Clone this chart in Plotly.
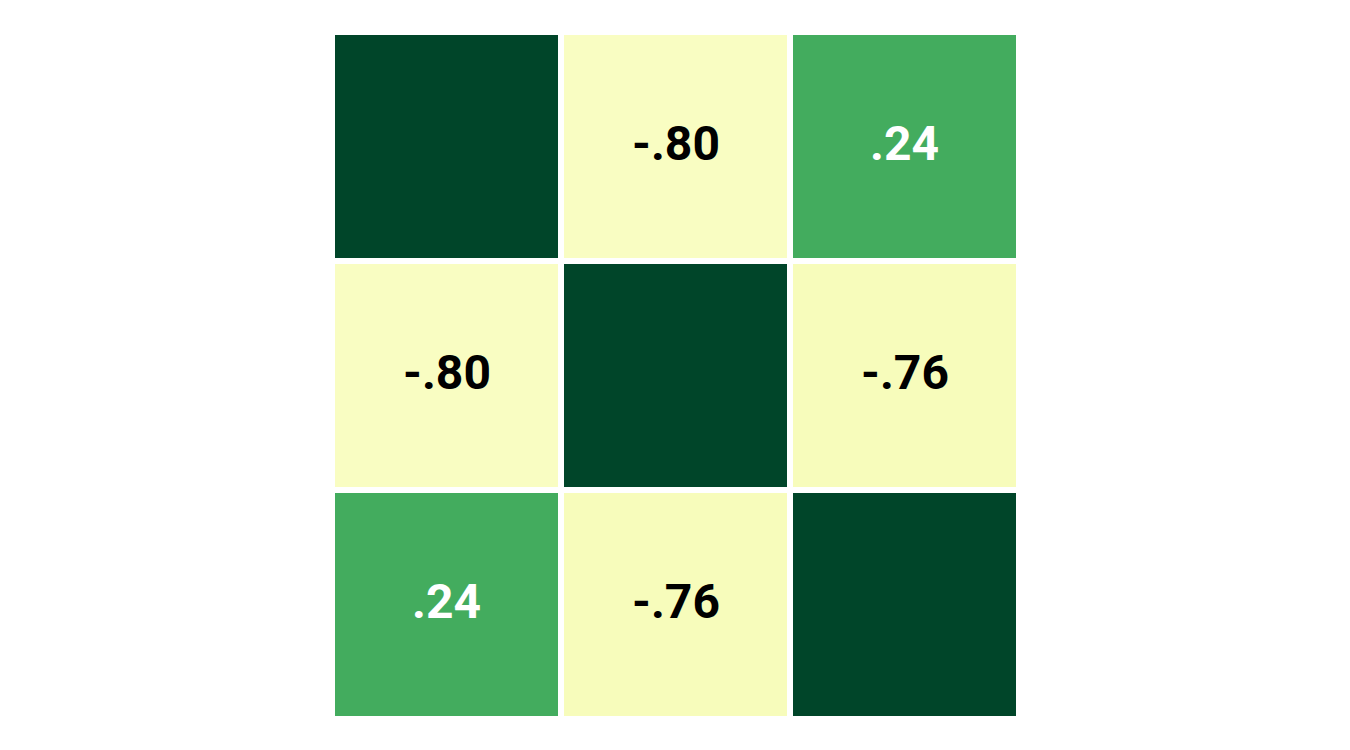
import plotly.graph_objects as go

variables = ["A", "B", "C"]
corr = [
    [1.00, -0.80, 0.24],
    [-0.80, 1.00, -0.76],
    [0.24, -0.76, 1.00],
]
labels = [
    ["", "-.80", ".24"],
    ["-.80", "", "-.76"],
    [".24", "-.76", ""],
]

fig = go.Figure(
    go.Heatmap(
        z=corr,
        x=variables,
        y=variables,
        colorscale="YlGn",
        zmin=-1,
        zmax=1,
        xgap=6,
        ygap=6,
        showscale=False,
        hoverinfo="skip",
    )
)

for i, row in enumerate(corr):
    for j, v in enumerate(row):
        if labels[i][j]:
            fig.add_annotation(
                x=variables[j],
                y=variables[i],
                text=labels[i][j],
                showarrow=False,
                yshift=3,
                font=dict(family="Roboto", size=48, color="white" if v > 0 else "black", weight="bold"),
            )

fig.update_xaxes(visible=False)
fig.update_yaxes(visible=False, autorange="reversed")
fig.update_layout(
    width=1350,
    height=750,
    margin=dict(l=324, r=339, t=24, b=39),
    plot_bgcolor="white",
    paper_bgcolor="white",
)
fig.write_html("out.html")
